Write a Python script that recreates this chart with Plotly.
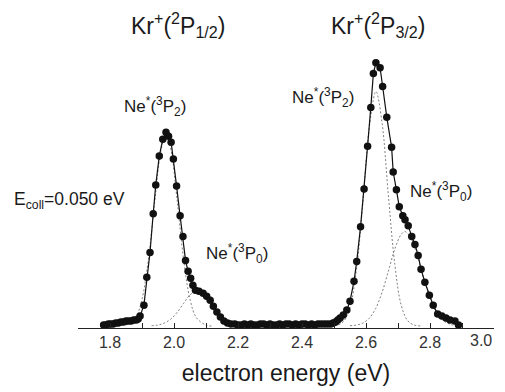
import plotly.graph_objects as go

# Measured photoelectron spectrum (energy in eV, intensity in arb. counts)
energy = [
    1.780, 1.787, 1.795, 1.802, 1.810, 1.818, 1.826, 1.834, 1.842, 1.850,
    1.858, 1.866, 1.874, 1.882, 1.888, 1.894, 1.906, 1.915, 1.925, 1.935,
    1.943, 1.954, 1.965, 1.975, 1.983, 1.991, 1.998, 2.008, 2.019, 2.028,
    2.036, 2.044, 2.052, 2.059, 2.067, 2.078, 2.091, 2.102, 2.113, 2.123,
    2.134, 2.145, 2.156, 2.167, 2.178,
    2.19, 2.20, 2.21, 2.22, 2.23, 2.24, 2.25, 2.26, 2.27, 2.28,
    2.29, 2.30, 2.31, 2.32, 2.33, 2.34, 2.35, 2.36, 2.37, 2.38,
    2.39, 2.40, 2.41, 2.42, 2.43, 2.44, 2.45, 2.46, 2.47, 2.48,
    2.49, 2.497, 2.505, 2.512, 2.519, 2.529, 2.540, 2.550, 2.5625, 2.571,
    2.583, 2.594, 2.605, 2.615, 2.623, 2.631, 2.644, 2.652, 2.665, 2.680,
    2.685, 2.695, 2.704, 2.715, 2.722, 2.732, 2.743, 2.753, 2.763, 2.772,
    2.784, 2.798, 2.810, 2.824, 2.837, 2.850, 2.8625, 2.878, 2.889,
]
counts = [
    1, 1, 2, 2, 2, 3, 3, 4, 4, 5,
    5, 5, 6, 6, 7, 10, 21, 49, 74, 113,
    142, 171, 188, 195, 191, 185, 168, 141, 111, 90,
    66, 55, 48, 41, 36, 35, 33, 30, 26, 20,
    14, 9, 5, 3, 2,
    2, 1, 1, 2, 1, 2, 1, 1, 2, 2,
    1, 2, 1, 1, 2, 1, 2, 2, 1, 2,
    1, 2, 2, 1, 2, 1, 2, 2, 2, 2,
    2, 3, 4, 6, 8, 11, 16, 25, 45, 65,
    100, 138, 181, 220, 254, 265, 260, 241, 210, 180,
    155, 137, 120, 111, 107, 101, 90, 82, 71, 57,
    44, 31, 21, 12, 10, 8, 6, 5, 1,
]

# Fitted components: Kr+(2P1/2) band, Ne*(3P2) and Ne*(3P0)
p12_3p2_e = [1.85, 1.88, 1.90, 1.92, 1.94, 1.96, 1.975, 1.99, 2.01, 2.03, 2.05, 2.07, 2.10, 2.12]
p12_3p2_c = [0.9, 8.4, 27, 67, 126, 178, 192, 178, 126, 67, 27, 8.4, 0.9, 0]
p12_3p0_e = [1.93, 1.95, 1.97, 1.99, 2.01, 2.03, 2.05, 2.075, 2.10, 2.12, 2.14, 2.16, 2.18, 2.20, 2.22]
p12_3p0_c = [0.3, 1.0, 3.0, 7.0, 13.8, 22.8, 31.3, 36, 31.3, 22.8, 13.8, 7.0, 3.0, 1.0, 0.3]

# Fitted components: Kr+(2P3/2) band, Ne*(3P2) and Ne*(3P0)
p32_3p2_e = [2.49, 2.51, 2.53, 2.55, 2.57, 2.59, 2.61, 2.631, 2.65, 2.67, 2.69, 2.71, 2.73, 2.75, 2.77]
p32_3p2_c = [0.1, 0.8, 4.6, 18.8, 56, 123, 199, 236, 205, 131, 62, 21, 5.4, 1.0, 0.1]
p32_3p0_e = [2.55, 2.57, 2.59, 2.61, 2.63, 2.65, 2.67, 2.69, 2.71, 2.722, 2.74, 2.76, 2.78, 2.80, 2.82, 2.84, 2.86, 2.88]
p32_3p0_c = [0.3, 0.9, 2.9, 7.7, 17.5, 33.7, 55.3, 77.4, 92.3, 95, 89, 71, 48.5, 28, 13.9, 5.9, 2.1, 0.6]

# Axis ticks; the last label is drawn separately so it stays inside the page
tick_vals = [1.8, 2.0, 2.2, 2.4, 2.6, 2.8, 3.0]
tick_text = ["1.8", "2.0", "2.2", "2.4", "2.6", "2.8", ""]
last_tick_label = "3.0"

FONT = "Liberation Sans, Arial, sans-serif"
TXT = "#1a1a1a"

fig = go.Figure()

for xs, ys in [(p12_3p2_e, p12_3p2_c), (p12_3p0_e, p12_3p0_c),
               (p32_3p2_e, p32_3p2_c), (p32_3p0_e, p32_3p0_c)]:
    fig.add_trace(go.Scatter(
        x=xs, y=ys, mode="lines", line_shape="spline",
        line=dict(color="#808080", width=1, dash="2px,2px"),
        hoverinfo="skip", showlegend=False,
    ))

fig.add_trace(go.Scatter(
    x=energy, y=counts, mode="lines+markers",
    line=dict(color="#111111", width=1.2),
    marker=dict(color="#111111", size=7.5),
    showlegend=False, cliponaxis=False,
))

# Labels placed in data coordinates
labels = [
    (2.0125, 303, "Kr<sup>+</sup>(<sup>2</sup>P<sub>1/2</sub>)", 23),
    (2.6375, 303, "Kr<sup>+</sup>(<sup>2</sup>P<sub>3/2</sub>)", 23),
    (1.94, 221, "Ne<sup>*</sup>(<sup>3</sup>P<sub>2</sub>)", 17),
    (2.4656, 230, "Ne<sup>*</sup>(<sup>3</sup>P<sub>2</sub>)", 17),
    (2.197, 73, "Ne<sup>*</sup>(<sup>3</sup>P<sub>0</sub>)", 17),
    (2.834, 135, "Ne<sup>*</sup>(<sup>3</sup>P<sub>0</sub>)", 17),
]
for x, y, t, s in labels:
    fig.add_annotation(x=x, y=y, xref="x", yref="y", text=t, showarrow=False,
                       font=dict(family=FONT, size=s, color=TXT),
                       xanchor="center", yanchor="middle")

# Collision energy label sits left of the energy range
fig.add_annotation(x=-0.0204, y=0.4025, xref="paper", yref="paper",
                   text="E<sub>coll</sub>=0.050 eV", showarrow=False,
                   font=dict(family=FONT, size=17.5, color=TXT),
                   xanchor="center", yanchor="middle")

# Final tick label, nudged left of its tick
fig.add_annotation(x=1.0, y=-0.041, xref="paper", yref="paper",
                   text=last_tick_label, showarrow=False,
                   font=dict(family=FONT, size=16, color="#333"),
                   xanchor="right", yanchor="middle")

fig.update_layout(
    width=505, height=392,
    margin=dict(l=78, r=11, t=12, b=62),
    paper_bgcolor="white", plot_bgcolor="white",
    xaxis=dict(
        range=[1.7, 3.0], tickmode="array",
        tickvals=tick_vals, ticktext=tick_text,
        ticks="inside", ticklen=5, tickwidth=1, tickcolor="#222",
        minor=dict(tickvals=[1.7, 1.9, 2.1, 2.3, 2.5, 2.7, 2.9], ticks="inside",
                   ticklen=5, tickcolor="#222", tickwidth=1),
        showline=True, linecolor="#222", linewidth=1.2,
        showgrid=False, zeroline=False,
        tickfont=dict(family=FONT, size=16, color="#333"),
        title=dict(text="electron energy (eV)", standoff=14,
                   font=dict(family=FONT, size=23, color=TXT)),
    ),
    yaxis=dict(range=[-2, 316], visible=False, showgrid=False, zeroline=False),
)

fig.write_html("out.html")
